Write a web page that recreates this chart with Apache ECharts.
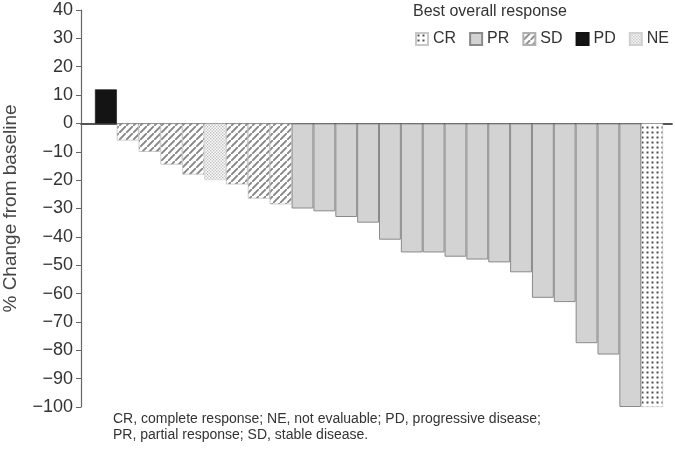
<!DOCTYPE html>
<html><head><meta charset="utf-8">
<script src="https://cdn.jsdelivr.net/npm/echarts@6/dist/echarts.min.js"></script>
<style>html,body{margin:0;padding:0;background:#fff}#c{width:675px;height:457px}</style>
</head><body><div id="c"></div>
<script>
// ---- data ----
const responses = ['PD','SD','SD','SD','SD','NE','SD','SD','SD',
  'PR','PR','PR','PR','PR','PR','PR','PR','PR','PR','PR','PR','PR','PR','PR','PR','CR'];
const changes = [12,-6,-10,-14.5,-18,-20,-21.5,-26.5,-28.5,
  -30,-31,-33,-35,-41,-45.5,-45.5,-47,-48,-49,-52.5,-61.5,-63,-77.5,-81.5,-100,-100];
const legendOrder = ['CR','PR','SD','PD','NE'];
const yMin = -100, yMax = 40, yStep = 10;
const legendTitle = 'Best overall response';
const yTitle = '% Change from baseline';
const footnote = 'CR, complete response; NE, not evaluable; PD, progressive disease;\nPR, partial response; SD, stable disease.';

// ---- patterns ----
function pattern(w, h, draw) {
  const c = document.createElement('canvas'); c.width = w; c.height = h;
  const g = c.getContext('2d'); g.fillStyle = '#fff'; g.fillRect(0, 0, w, h); draw(g);
  return { image: c, repeat: 'repeat' };
}
const fills = {
  CR: pattern(5, 5, g => { g.fillStyle = '#505050'; g.fillRect(1.5, 1.5, 2, 2); }),
  PR: '#d3d3d3',
  SD: pattern(7, 7, g => {
    g.strokeStyle = '#858585'; g.lineWidth = 1.9;
    g.beginPath(); g.moveTo(-1, 8); g.lineTo(8, -1);
    g.moveTo(-2, 1); g.lineTo(1, -2); g.moveTo(6, 9); g.lineTo(9, 6); g.stroke();
  }),
  PD: '#141414',
  NE: pattern(3, 3, g => { g.fillStyle = '#bdbdbd'; g.fillRect(0, 0, 1.4, 1.4); g.fillRect(1.5, 1.5, 1.4, 1.4); })
};
const borders = { CR: '#c8c8c8', PR: '#8a8a8a', SD: '#b0b0b0', PD: '#111', NE: '#d0d0d0' };

const FONT = 'Liberation Sans, Arial, sans-serif';
const series = legendOrder.map(code => ({
  name: code, type: 'bar', barWidth: 21.85, barGap: '-100%',
  itemStyle: { color: fills[code], borderColor: borders[code], borderWidth: code === 'PR' ? 1 : 0.6 },
  emphasis: { disabled: true },
  data: responses.map((r, i) => r === code ? [i, changes[i]] : null).filter(d => d)
}));

const chart = echarts.init(document.getElementById('c'), null, { renderer: 'canvas' });
chart.setOption({
  animation: false,
  backgroundColor: '#fff',
  textStyle: { fontFamily: FONT },
  title: { text: legendTitle, left: 413, top: 4, padding: 0,
    textStyle: { fontSize: 16, fontWeight: 'normal', color: '#333', fontFamily: FONT } },
  legend: { data: legendOrder, left: 415, top: 31, width: 300, padding: 0, itemWidth: 12, itemHeight: 12, itemGap: 13,
    icon: 'rect', textStyle: { fontSize: 16, color: '#333', fontFamily: FONT } },
  grid: { left: 81, right: 3, top: 10, bottom: 50, containLabel: false, outerBoundsMode: 'none' },
  xAxis: { type: 'value', min: -1.14, max: 25.91,
    axisLine: { show: true, onZero: true, lineStyle: { color: '#555', width: 1.8 } },
    axisTick: { show: false }, axisLabel: { show: false }, splitLine: { show: false } },
  yAxis: { type: 'value', min: yMin, max: yMax, interval: yStep,
    name: yTitle, nameLocation: 'middle', nameGap: 61,
    nameTextStyle: { fontSize: 19, color: '#444', fontFamily: FONT },
    axisLine: { show: true, onZero: false, lineStyle: { color: '#666', width: 1.2 } },
    axisTick: { show: true, length: 5, lineStyle: { color: '#666' } },
    axisLabel: { fontSize: 18, color: '#333', margin: 8, fontFamily: FONT,
      formatter: v => String(v).replace('-', '\u2212') },
    splitLine: { show: false } },
  graphic: [{ type: 'text', left: 113, top: 411,
    style: { text: footnote, fontSize: 14, lineHeight: 16, fill: '#333', fontFamily: FONT } }],
  series
});
</script></body></html>
